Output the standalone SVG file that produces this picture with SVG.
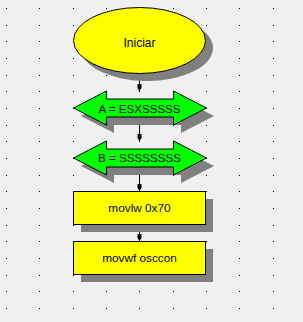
<svg xmlns="http://www.w3.org/2000/svg" xmlns:xlink="http://www.w3.org/1999/xlink" width="303" height="322" viewBox="0 0 303 322">
<style>
.shadow{fill:#808080;stroke:none}
.term{fill:#ffff00;stroke:#000;stroke-width:1}
.io{fill:#00ff00;stroke:#000;stroke-width:1}
.proc{fill:#ffff00;stroke:#000;stroke-width:1}
.lbl{font-family:"Liberation Sans",Arial,sans-serif;font-size:12px;fill:#000;text-anchor:middle}
.conn{stroke:#000;stroke-width:1;fill:none}
</style>
<defs>
<pattern id="grid" x="0" y="0" width="100" height="50" patternUnits="userSpaceOnUse">
<path d="M6 8h1v1h-1zM39 8h1v1h-1zM73 8h1v1h-1zM6 25h1v1h-1zM39 25h1v1h-1zM73 25h1v1h-1zM6 41h1v1h-1zM39 41h1v1h-1zM73 41h1v1h-1z" fill="#000"/>
</pattern>
<marker id="arr" viewBox="0 0 7 6" refX="7" refY="3" markerWidth="7" markerHeight="6" markerUnits="userSpaceOnUse" orient="auto">
<path d="M0,1 L4,1 L7,3 L4,5 L0,5 Z" fill="#000"/>
</marker>
<path id="dbl" d="M0,0 L33,-17 L33,-9 L100,-9 L100,-17 L133,0 L100,17 L100,9 L33,9 L33,17 Z"/>
</defs>
<rect width="303" height="322" fill="#f0f0f0"/>
<rect width="303" height="322" fill="url(#grid)"/>
<g id="connectors">
<line class="conn" x1="139.5" y1="74" x2="139.5" y2="91" marker-end="url(#arr)"/>
<line class="conn" x1="139.5" y1="125" x2="139.5" y2="141" marker-end="url(#arr)"/>
<line class="conn" x1="139.5" y1="175" x2="139.5" y2="191" marker-end="url(#arr)"/>
<line class="conn" x1="139.5" y1="225" x2="139.5" y2="241" marker-end="url(#arr)"/>
</g>
<g id="start">
<ellipse class="shadow" cx="147" cy="48" rx="66" ry="33"/>
<ellipse class="term" cx="139.5" cy="40.5" rx="66" ry="33"/>
<text class="lbl" x="139.5" y="46.5">Iniciar</text>
</g>
<g id="io1">
<use xlink:href="#dbl" class="shadow" transform="translate(81,116)"/>
<use xlink:href="#dbl" class="io" transform="translate(73.5,108)"/>
<text class="lbl" x="139.5" y="112.5" style="font-size:11.6px">A = ESXSSSSS</text>
</g>
<g id="io2">
<use xlink:href="#dbl" class="shadow" transform="translate(81,166)"/>
<use xlink:href="#dbl" class="io" transform="translate(73.5,158)"/>
<text class="lbl" x="139.5" y="162" style="font-size:11.6px">B = SSSSSSSS</text>
</g>
<g id="proc1">
<rect class="shadow" x="81" y="199" width="132" height="33"/>
<rect class="proc" x="73.5" y="191.5" width="132" height="33"/>
<text class="lbl" x="139.5" y="212" style="font-size:11.8px">movlw 0x70</text>
</g>
<g id="proc2">
<rect class="shadow" x="81" y="249" width="132" height="33"/>
<rect class="proc" x="73.5" y="241.5" width="132" height="33"/>
<text class="lbl" x="139.5" y="262" style="font-size:11.8px">movwf osccon</text>
</g>
</svg>
